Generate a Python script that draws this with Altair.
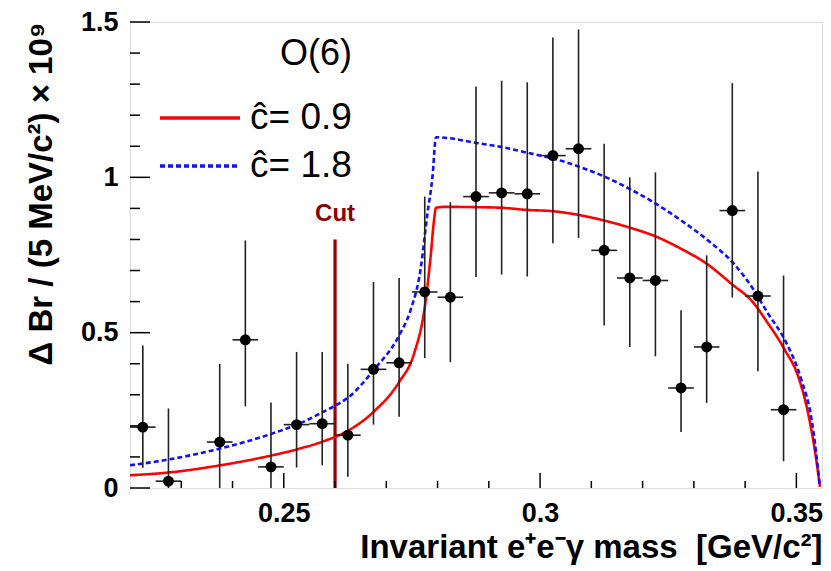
import altair as alt
import pandas as pd

# ---------------- data ----------------
mass = [0.2225, 0.2275, 0.2375, 0.2425, 0.2475, 0.2525, 0.2575, 0.2625, 0.2675,
        0.2725, 0.2775, 0.2825, 0.2875, 0.2925, 0.2975, 0.3025, 0.3075, 0.3125,
        0.3175, 0.3225, 0.3275, 0.3325, 0.3375, 0.3425, 0.3475]
dbr = [0.196, 0.022, 0.148, 0.477, 0.068, 0.204, 0.207, 0.170, 0.382,
       0.403, 0.631, 0.614, 0.938, 0.950, 0.947, 1.070, 1.092, 0.765,
       0.676, 0.668, 0.322, 0.454, 0.893, 0.618, 0.252]
err_hi = [0.459, 0.256, 0.400, 0.797, 0.275, 0.438, 0.438, 0.400, 0.663,
          0.676, 0.938, 0.920, 1.292, 1.311, 1.306, 1.450, 1.476, 1.108,
          1.000, 1.016, 0.572, 0.749, 1.303, 1.019, 0.684]
err_lo = [0.065, 0.0, 0.0, 0.263, 0.0, 0.066, 0.073, 0.036, 0.204,
          0.229, 0.418, 0.405, 0.679, 0.687, 0.681, 0.788, 0.805, 0.523,
          0.454, 0.424, 0.180, 0.274, 0.613, 0.376, 0.086]
bin_half = 0.0025

# model curves
c09_x = [0.2200, 0.2276, 0.2376, 0.2477, 0.2527, 0.2577, 0.2627, 0.2675,
         0.2725, 0.2754, 0.2775, 0.2787, 0.2793, 0.2797, 0.2815, 0.2875, 0.2925,
         0.2975, 0.3025, 0.3075, 0.3125, 0.3175, 0.3225, 0.3275, 0.3325, 0.3375,
         0.3412, 0.3445, 0.3478, 0.3504, 0.3523, 0.3536, 0.3546]
c09_y = [0.041, 0.050, 0.073, 0.105, 0.125, 0.150, 0.186, 0.245,
         0.341, 0.432, 0.582, 0.754, 0.861, 0.902, 0.905, 0.904, 0.902,
         0.895, 0.891, 0.879, 0.861, 0.838, 0.810, 0.770, 0.722, 0.655,
         0.604, 0.529, 0.443, 0.357, 0.240, 0.122, 0.004]
c18_x = [0.2200, 0.2276, 0.2376, 0.2477, 0.2527, 0.2577, 0.2601, 0.2627, 0.2675,
         0.2725, 0.2747, 0.2767, 0.2780, 0.2790, 0.2797, 0.2879, 0.2927, 0.2978,
         0.3027, 0.3078, 0.3129, 0.3178, 0.3229, 0.3278, 0.3329, 0.3378, 0.3413,
         0.3445, 0.3478, 0.3510, 0.3530, 0.3546]
c18_y = [0.073, 0.092, 0.127, 0.175, 0.205, 0.245, 0.266, 0.293, 0.379,
         0.491, 0.571, 0.705, 0.880, 1.000, 1.129, 1.110, 1.097, 1.078,
         1.060, 1.033, 1.000, 0.960, 0.912, 0.858, 0.795, 0.722, 0.647,
         0.561, 0.475, 0.347, 0.218, 0.004]
series_names = ["ĉ= 0.9", "ĉ= 1.8"]

cut_mass = [0.26]
cut_top = [0.80]
cut_label = ["Cut"]

x_major = [0.25, 0.30, 0.35]
x_minor = [0.23, 0.24, 0.26, 0.27, 0.28, 0.29, 0.31, 0.32, 0.33, 0.34]
y_major = [0.0, 0.5, 1.0, 1.5]
y_minor = [0.1, 0.2, 0.3, 0.4, 0.6, 0.7, 0.8, 0.9, 1.1, 1.2, 1.3, 1.4]

X_DOMAIN = [0.22, 0.355]
Y_DOMAIN = [0.0, 1.5]
FONT = "Liberation Sans"

# inward tick lengths (pixels -> data units of the other axis)
PX_X = (X_DOMAIN[1] - X_DOMAIN[0]) / 692
PX_Y = (Y_DOMAIN[1] - Y_DOMAIN[0]) / 466

# ---------------- tables ----------------
pts = pd.DataFrame({"mass": mass, "dbr": dbr, "hi": err_hi, "lo": err_lo})
pts["x0"] = pts["mass"] - bin_half
pts["x1"] = pts["mass"] + bin_half
curves = pd.concat([
    pd.DataFrame({"mass": c09_x, "val": c09_y, "series": series_names[0], "order": range(len(c09_x))}),
    pd.DataFrame({"mass": c18_x, "val": c18_y, "series": series_names[1], "order": range(len(c18_x))}),
])
cut = pd.DataFrame({"mass": cut_mass, "top": cut_top, "label": cut_label, "base": [0.0]})
xt = pd.DataFrame({"tv": x_major + x_minor,
                   "ta": [0.0] * (len(x_major) + len(x_minor)),
                   "tb": [15 * PX_Y] * len(x_major) + [7 * PX_Y] * len(x_minor)})
yt = pd.DataFrame({"tv": y_major + y_minor,
                   "ta": [X_DOMAIN[0]] * (len(y_major) + len(y_minor)),
                   "tb": [X_DOMAIN[0] + 20 * PX_X] * len(y_major) + [X_DOMAIN[0] + 10 * PX_X] * len(y_minor)})

xs = alt.Scale(domain=X_DOMAIN, nice=False, zero=False)
ys = alt.Scale(domain=Y_DOMAIN, nice=False, zero=False)

X = alt.X("mass:Q", scale=xs, axis=alt.Axis(
    values=x_major, format="~g", ticks=False, domain=False, grid=False,
    labelFont=FONT, labelFontSize=27, labelFontWeight="bold", labelColor="black",
    labelPadding=12, labelFlush=False,
    title="Invariant e⁺e⁻γ mass \u00a0[GeV/c²]", titleFont=FONT, titleFontSize=33,
    titleFontWeight="bold", titleColor="black", titleAnchor="end", titlePadding=5))
Y = alt.Y("dbr:Q", scale=ys, axis=alt.Axis(
    values=y_major, format="~g", ticks=False, domain=False, grid=False,
    labelFont=FONT, labelFontSize=27, labelFontWeight="bold", labelColor="black",
    labelPadding=12, labelFlush=False,
    title="Δ Br / (5 MeV/c²) × 10⁹", titleFont=FONT, titleFontSize=33,
    titleFontWeight="bold", titleColor="black", titleAnchor="end", titlePadding=22))

lines = alt.Chart(curves).mark_line(strokeWidth=2.6, clip=True, interpolate="monotone").encode(
    x=alt.X("mass:Q", scale=xs),
    y=alt.Y("val:Q", scale=ys),
    order="order:Q",
    color=alt.Color("series:N", scale=alt.Scale(domain=series_names, range=["#ff0000", "#1010ff"]),
                    legend=alt.Legend(
                        title="O(6)", orient="none", legendX=48, legendY=15,
                        titleFont=FONT, titleFontSize=36, titleFontWeight="normal",
                        titleColor="black", titleAnchor="end", titlePadding=23,
                        labelFont=FONT, labelFontSize=37, labelColor="black",
                        labelOffset=28, symbolType="M-2,0H2", symbolSize=1600,
                        symbolStrokeWidth=3.5, rowPadding=8)),
    strokeDash=alt.StrokeDash("series:N", scale=alt.Scale(domain=series_names, range=[[1, 0], [5, 3]]),
                              legend=None),
)

vbars = alt.Chart(pts).mark_rule(color="#222222", strokeWidth=1.6, clip=True).encode(
    x=alt.X("mass:Q", scale=xs), y=alt.Y("lo:Q", scale=ys), y2="hi:Q")
hbars = alt.Chart(pts).mark_rule(color="#222222", strokeWidth=1.6, clip=True).encode(
    x=alt.X("x0:Q", scale=xs), x2="x1:Q", y=alt.Y("dbr:Q", scale=ys))
dots = alt.Chart(pts).mark_circle(size=120, color="black", opacity=1).encode(x=X, y=Y)

cut_line = alt.Chart(cut).mark_rule(color="#990000", strokeWidth=3.2).encode(
    x=alt.X("mass:Q", scale=xs), y=alt.Y("top:Q", scale=ys), y2="base:Q")
cut_text = alt.Chart(cut).mark_text(font=FONT, fontSize=24, fontWeight="bold", color="#8b0000",
                                    baseline="alphabetic", align="center", dy=-18).encode(
    x=alt.X("mass:Q", scale=xs), y=alt.Y("top:Q", scale=ys), text="label:N")

# inward ticks, drawn through the scales
xticks = alt.Chart(xt).mark_rule(color="black", strokeWidth=1.5).encode(
    x=alt.X("tv:Q", scale=xs), y=alt.Y("ta:Q", scale=ys), y2="tb:Q")
yticks = alt.Chart(yt).mark_rule(color="black", strokeWidth=1.5).encode(
    y=alt.Y("tv:Q", scale=ys), x=alt.X("ta:Q", scale=xs), x2="tb:Q")

chart = alt.layer(
    cut_line, cut_text, lines, vbars, hbars, dots, xticks, yticks
).properties(
    width=692, height=466,
    padding={"left": 130, "top": 22, "right": 9, "bottom": 83},
    autosize=alt.AutoSizeParams(type="none"),
    background="white",
).configure_view(stroke="black", strokeWidth=1.6).configure(font=FONT)

chart.save("out.html", embed_options={"renderer": "svg", "actions": False})
